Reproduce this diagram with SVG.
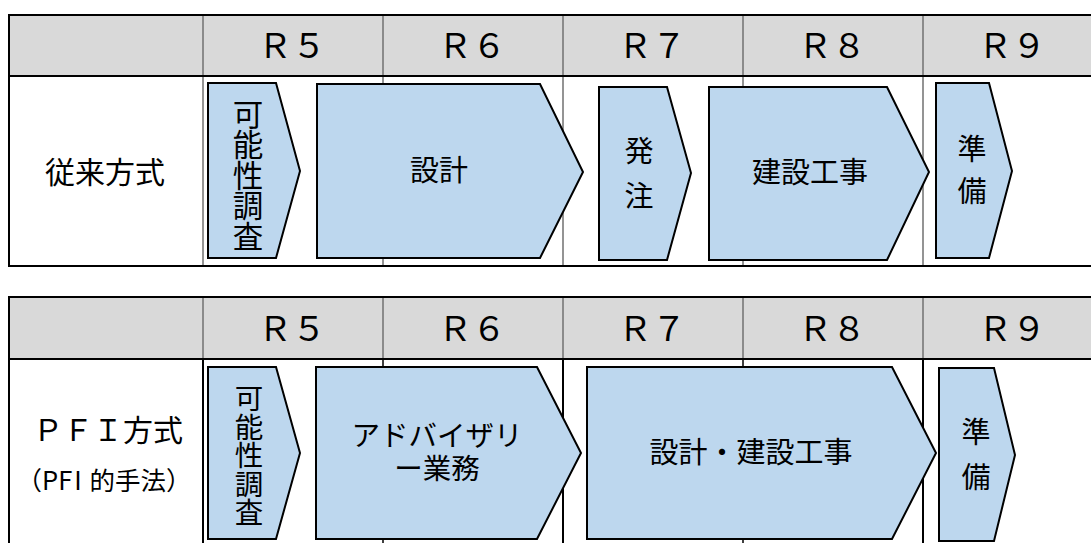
<svg xmlns="http://www.w3.org/2000/svg" width="1091" height="543" viewBox="0 0 1091 543">
<style>
.hdr{fill:#d9d9d9}
.ln{stroke:#000;stroke-width:2;fill:none}
.vg{stroke:#707070;stroke-width:1.5}
.vb{stroke:#000;stroke-width:1.5}
.sh{fill:#bdd7ee;stroke:#000;stroke-width:2;stroke-linejoin:miter}
text{font-family:"Noto Sans CJK JP","Noto Sans",sans-serif;fill:#000}
.h{font-size:34px;text-anchor:middle}
.t{font-size:29px;text-anchor:middle}
.lbl{font-size:30px;text-anchor:middle}
.vt{writing-mode:vertical-rl}
</style>
<rect width="1091" height="543" fill="#fff"/>
<g id="table1">
  <rect class="hdr" x="9" y="15" width="1090" height="61"/>
  <g class="vg">
    <line x1="203" y1="15" x2="203" y2="266"/>
    <line x1="383" y1="15" x2="383" y2="266"/>
    <line x1="563" y1="15" x2="563" y2="266"/>
    <line x1="743" y1="15" x2="743" y2="266"/>
    <line x1="923" y1="15" x2="923" y2="266"/>
  </g>
  <path class="ln" d="M1092 15H9V266H1092M9 76H1092"/>
  <text class="h" x="292" y="58">Ｒ５</text>
  <text class="h" x="472" y="58">Ｒ６</text>
  <text class="h" x="652" y="58">Ｒ７</text>
  <text class="h" x="832" y="58">Ｒ８</text>
  <text class="h" x="1012" y="58">Ｒ９</text>
  <text class="lbl" x="105" y="183">従来方式</text>
</g>
<g id="table2">
  <rect class="hdr" x="9" y="297" width="1090" height="62"/>
  <g class="vg">
    <line x1="203" y1="297" x2="203" y2="359"/>
    <line x1="383" y1="297" x2="383" y2="359"/>
    <line x1="563" y1="297" x2="563" y2="359"/>
    <line x1="743" y1="297" x2="743" y2="359"/>
    <line x1="923" y1="297" x2="923" y2="359"/>
  </g>
  <g class="vb">
    <line x1="203" y1="359" x2="203" y2="545" stroke-width="2"/>
    <line x1="383" y1="359" x2="383" y2="545"/>
    <line x1="563" y1="359" x2="563" y2="545" stroke-width="2"/>
    <line x1="743" y1="359" x2="743" y2="545"/>
    <line x1="923" y1="359" x2="923" y2="545" stroke-width="2"/>
  </g>
  <path class="ln" d="M1092 297H9V546M9 359H1092"/>
  <text class="h" x="292" y="341">Ｒ５</text>
  <text class="h" x="472" y="341">Ｒ６</text>
  <text class="h" x="652" y="341">Ｒ７</text>
  <text class="h" x="832" y="341">Ｒ８</text>
  <text class="h" x="1012" y="341">Ｒ９</text>
  <text class="lbl" x="108" y="441">ＰＦＩ方式</text>
  <text x="104" y="490" font-size="25.5" text-anchor="middle">（P<tspan letter-spacing="2">FI</tspan> 的手法）</text>
</g>
<g id="connectors"></g>
<g id="r1-kanousei">
  <path class="sh" d="M208 83H276L300 171L276 258H208Z"/>
  <text class="vt" x="248" y="99" font-size="30.5">可能性調査</text>
</g>
<g id="r1-sekkei">
  <path class="sh" d="M317 84H540L583 172L540 258H317Z"/>
  <text class="t" x="439" y="181">設計</text>
</g>
<g id="r1-hacchu">
  <path class="sh" d="M599 87H667L691 173L667 260H599Z"/>
  <text class="t"><tspan x="639" y="162">発</tspan><tspan x="639" y="207">注</tspan></text>
</g>
<g id="r1-kensetsu">
  <path class="sh" d="M709 87H887L929 172L887 260H709Z"/>
  <text class="t" x="810" y="183">建設工事</text>
</g>
<g id="r1-junbi">
  <path class="sh" d="M936 83H989L1012 171L989 258H936Z"/>
  <text class="t"><tspan x="972" y="160">準</tspan><tspan x="972" y="202">備</tspan></text>
</g>
<g id="r2-kanousei">
  <path class="sh" d="M208 367H276L300 453L276 539H208Z"/>
  <text class="vt" x="249" y="384" font-size="28.5">可能性調査</text>
</g>
<g id="r2-advisory">
  <path class="sh" d="M316 367H537L581 453L537 539H316Z"/>
  <text font-size="28.5" text-anchor="middle"><tspan x="437" y="446">アドバイザリ</tspan><tspan x="437" y="479">ー業務</tspan></text>
</g>
<g id="r2-sekkei-kensetsu">
  <path class="sh" d="M587 367H892L936 453L892 539H587Z"/>
  <text class="t" x="751" y="463">設計・建設工事</text>
</g>
<g id="r2-junbi">
  <path class="sh" d="M939 368H994L1015 455L994 541H939Z"/>
  <text class="t"><tspan x="976" y="443">準</tspan><tspan x="976" y="488">備</tspan></text>
</g>
</svg>
